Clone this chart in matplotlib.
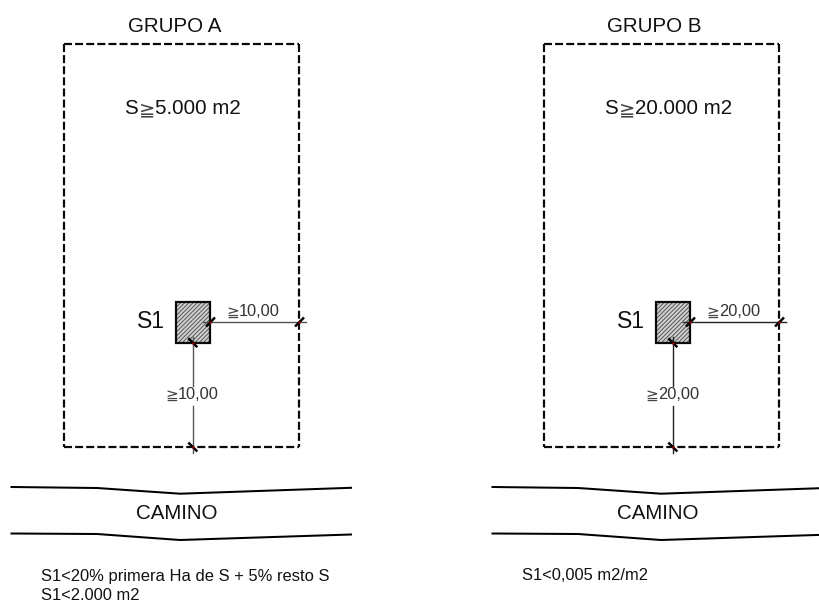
import matplotlib
matplotlib.use("Agg")
import matplotlib.pyplot as plt
from matplotlib.patches import Rectangle

plt.rcParams['font.family'] = ['Liberation Sans', 'DejaVu Sans']
plt.rcParams['hatch.linewidth'] = 0.7

GE = "\u2267"
groups = ["GRUPO A", "GRUPO B"]
area_values = ["5.000 m2", "20.000 m2"]
dim_values = ["10,00", "20,00"]
notes = [["S1<20% primera Ha de S + 5% resto S", "S1<2.000 m2"], ["S1<0,005 m2/m2"]]
offsets = [0, 480]

road_x = [11.5, 97, 180, 351]
road_top = [487, 488, 493.7, 487.8]
road_bottom = [533.5, 534, 540, 534.5]

plot_x = [64, 299]
plot_y = [44, 447]
s1_x = [175.7, 210]
s1_y = [301.5, 342.7]
dim_y = 322
dim_x = 192.8
DK = '#0a0a0a'
TXT = '#111111'

fig = plt.figure(figsize=(8.2, 6.04), dpi=100)
ax = fig.add_axes([0, 0, 1, 1])
ax.set_xlim(0, 820)
ax.set_ylim(604, 0)
ax.axis('off')

def tick(x, y, sx):
    ax.plot([x - 4.5 * sx, x + 4.5 * sx], [y + 4.5, y - 4.5], color='black', lw=1.8, solid_capstyle='butt', zorder=5)
    ax.plot([x], [y], 's', ms=1.4, color='#c00000', mew=0, zorder=6)

for i, o in enumerate(offsets):
    x0, x1 = plot_x[0] + o, plot_x[1] + o
    y0, y1 = plot_y
    for xs, ys in [([x0, x1], [y0, y0]), ([x1, x1], [y0, y1]), ([x0, x1], [y1, y1]), ([x0, x0], [y0, y1])]:
        ax.plot(xs, ys, color=DK, lw=1.6, linestyle=(0, (3.6, 1.4)), dash_capstyle='butt')
    # S1 block
    ax.add_patch(Rectangle((s1_x[0] + o, s1_y[0]), s1_x[1] - s1_x[0], s1_y[1] - s1_y[0],
                           facecolor='#d0d0d0', edgecolor='#555555', hatch='////////', lw=0, zorder=2))
    ax.add_patch(Rectangle((s1_x[0] + o, s1_y[0]), s1_x[1] - s1_x[0], s1_y[1] - s1_y[0],
                           facecolor='none', edgecolor=DK, lw=1.6, zorder=3))
    # dimension lines
    line_c = '#555555' if i == 0 else '#222222'
    ax.plot([203 + o, 306 + o], [dim_y, dim_y], color=line_c, lw=1.0, zorder=4)
    ax.plot([dim_x + o, dim_x + o], [337, 386], color=line_c, lw=1.0, zorder=4)
    ax.plot([dim_x + o, dim_x + o], [406, 453], color=line_c, lw=1.0, zorder=4)
    tick(s1_x[1] + o + 0.5, dim_y, 1)
    tick(plot_x[1] + o + 0.5, dim_y, 1)
    tick(dim_x + o, s1_y[1], -1)
    tick(dim_x + o, plot_y[1], -1)
    # road
    shift = 1 if i else 0
    ax.plot([x + o + shift for x in road_x], road_top, color='black', lw=1.45)
    ax.plot([x + o + shift for x in road_x], road_bottom, color='black', lw=1.45)
    # text
    ax.text(174.5 + o, 26, groups[i], fontsize=14.8, ha='center', va='center', color=TXT)
    ax.text(124 + o, 114, "S", fontsize=14.8, ha='left', va='baseline', color=TXT)
    ax.text(147 + o, 115, GE, fontsize=14, ha='center', va='baseline', color='#444444',
            family='DejaVu Sans')
    ax.text(155 + o, 114, area_values[i], fontsize=14.8, ha='left', va='baseline', color=TXT)
    ax.text(137 + o, 328, "S1", fontsize=16.5, ha='left', va='baseline', color=TXT)
    ax.text(233 + o, 316.5, GE, fontsize=11, ha='center', va='baseline', color='#444444', family='DejaVu Sans')
    ax.text(239 + o, 316, dim_values[i], fontsize=11.8, ha='left', va='baseline', color='#333333')
    ax.text(171.5 + o, 399.5, GE, fontsize=11, ha='center', va='baseline', color='#444444', family='DejaVu Sans')
    ax.text(178 + o, 399, dim_values[i], fontsize=11.8, ha='left', va='baseline', color='#333333')
    ax.text(176.5 + o + shift, 519, "CAMINO", fontsize=14.8, ha='center', va='baseline', color=TXT)
    for j, line in enumerate(notes[i]):
        ax.text(41 + o + shift, 580.5 + 20 * j, line, fontsize=11.9, ha='left', va='baseline', color=TXT)

fig.savefig("out.png", dpi=100)
